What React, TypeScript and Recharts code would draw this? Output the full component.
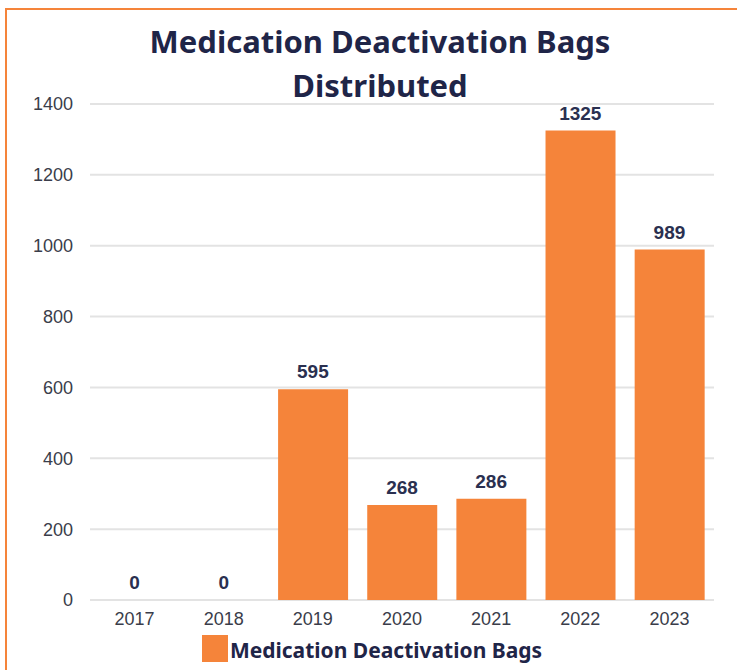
import React from 'react';
import { ComposedChart, Bar, Line, XAxis, YAxis, CartesianGrid, LabelList, Legend } from 'recharts';

const years = ['2017', '2018', '2019', '2020', '2021', '2022', '2023'];
const bags = [0, 0, 595, 268, 286, 1325, 989];
const yTicks = [0, 200, 400, 600, 800, 1000, 1200, 1400];

const seriesName = 'Medication Deactivation Bags';
const orange = '#F5843A';
const navy = '#1F2548';
const tickFont = { fill: '#3a3d4a', fontSize: 18, fontFamily: '"Liberation Sans", Arial, sans-serif' };

const data = years.map((year, i) => ({ year, bags: bags[i] }));

const LegendBox = () => (
  <div style={{ display: 'flex', justifyContent: 'center', alignItems: 'flex-end', height: 32 }}>
    <div style={{ width: 26, height: 27, background: orange, marginRight: 2 }} />
    <span style={{ fontFamily: '"Noto Sans", sans-serif', fontWeight: 700, fontSize: 21, color: navy, lineHeight: '24px' }}>
      {seriesName}
    </span>
  </div>
);

export default function App() {
  return (
    <div style={{ position: 'fixed', inset: 0, overflow: 'hidden', background: '#fff' }}>
      <div
        style={{
          position: 'absolute', left: 5, top: 8, width: 740, height: 700,
          borderTop: `2px solid ${orange}`, borderLeft: `2px solid ${orange}`,
        }}
      />
      <div
        style={{
          position: 'absolute', left: 0, top: 19, width: 760, textAlign: 'center',
          fontFamily: '"Noto Sans", sans-serif', fontWeight: 700, fontSize: 31, lineHeight: '44px', color: navy,
        }}
      >
        Medication Deactivation Bags<br />Distributed
      </div>
      <div style={{ position: 'absolute', left: 0, top: 0 }}>
        <ComposedChart width={737} height={670} data={data} margin={{ top: 104, right: 23, bottom: 8, left: 30 }} barCategoryGap="11%">
          <CartesianGrid vertical={false} stroke="#e3e3e3" strokeWidth={2} />
          <XAxis
            dataKey="year"
            axisLine={false}
            tickLine={false}
            tickSize={0}
            tickMargin={12}
            height={30}
            tick={tickFont}
          />
          <YAxis
            domain={[0, 1400]}
            ticks={yTicks}
            axisLine={false}
            tickLine={false}
            tickSize={0}
            tickMargin={17}
            width={60}
            tick={tickFont}
          />
          <Legend verticalAlign="bottom" content={<LegendBox />} />
          <Bar dataKey="bags" name={seriesName} fill={orange} isAnimationActive={false} />
          <Line dataKey="bags" stroke="none" dot={false} activeDot={false} legendType="none" isAnimationActive={false}>
            <LabelList
              dataKey="bags"
              position="top"
              offset={11}
              style={{ fill: '#2a3050', fontSize: 19, fontWeight: 700, fontFamily: '"Liberation Sans", Arial, sans-serif' }}
            />
          </Line>
        </ComposedChart>
      </div>
    </div>
  );
}
